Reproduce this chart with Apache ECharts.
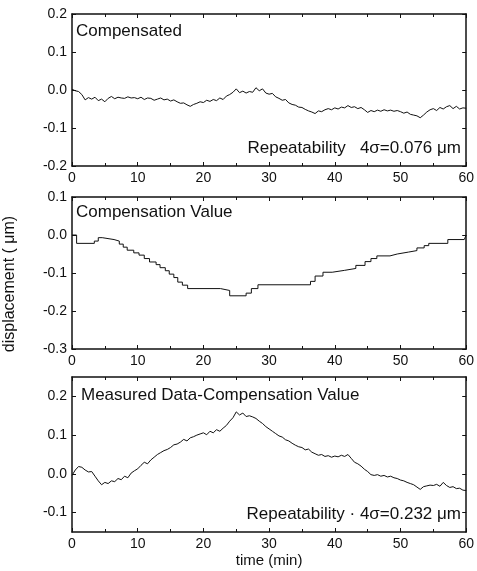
<!DOCTYPE html>
<html><head><meta charset="utf-8">
<script src="https://cdn.jsdelivr.net/npm/echarts@6/dist/echarts.min.js"></script>
<style>html,body{margin:0;padding:0;background:#fff}#c{width:477px;height:571px}</style>
</head><body><div id="c"></div>
<script>
// ---- data ----
const timeStep = 0.5; // sampling interval of the noisy records, minutes
const compensated = [
 0.002,-0.002,-0.004,-0.012,-0.026,-0.020,-0.024,-0.019,-0.028,-0.024,
 -0.031,-0.022,-0.017,-0.023,-0.019,-0.021,-0.022,-0.018,-0.021,-0.020,
 -0.023,-0.019,-0.025,-0.021,-0.022,-0.027,-0.024,-0.021,-0.026,-0.024,
 -0.029,-0.026,-0.031,-0.035,-0.034,-0.039,-0.043,-0.038,-0.035,-0.031,
 -0.033,-0.027,-0.030,-0.025,-0.028,-0.021,-0.025,-0.016,-0.012,-0.006,
 0.003,-0.007,-0.003,-0.008,-0.004,-0.006,0.006,-0.002,0.003,-0.008,
 -0.011,-0.009,-0.018,-0.022,-0.027,-0.025,-0.034,-0.038,-0.040,-0.045,
 -0.046,-0.051,-0.055,-0.058,-0.062,-0.055,-0.057,-0.052,-0.049,-0.052,
 -0.047,-0.050,-0.045,-0.047,-0.041,-0.046,-0.044,-0.049,-0.046,-0.052,
 -0.059,-0.054,-0.057,-0.053,-0.056,-0.052,-0.055,-0.053,-0.056,-0.054,
 -0.057,-0.061,-0.058,-0.064,-0.066,-0.068,-0.073,-0.066,-0.058,-0.052,
 -0.049,-0.054,-0.046,-0.050,-0.044,-0.041,-0.049,-0.043,-0.050,-0.047,
 -0.048
];
// compensation value: step breakpoints [time, level]
const compTimes = [0,0.7,3.4,4.0,4.6,6.4,7.2,7.8,8.4,9.4,10.2,11.0,11.8,12.8,13.4,14.2,14.8,15.5,16.1,16.8,17.6,22.6,24.0,26.5,27.3,28.3,36.3,37.0,38.2,39.6,41.5,43.2,44.6,45.5,46.4,48.4,49.5,51.2,52.5,53.6,54.3,57.2,59.7,60];
const compLevels = [0.0,-0.022,-0.016,-0.007,-0.012,-0.016,-0.024,-0.032,-0.040,-0.047,-0.053,-0.062,-0.071,-0.078,-0.086,-0.094,-0.103,-0.112,-0.124,-0.132,-0.141,-0.146,-0.160,-0.153,-0.141,-0.131,-0.122,-0.108,-0.098,-0.093,-0.088,-0.080,-0.070,-0.062,-0.055,-0.050,-0.045,-0.041,-0.034,-0.028,-0.022,-0.012,-0.009,0.0];
const measuredMinusComp = [
 -0.004,0.010,0.019,0.017,0.010,0.005,0.006,-0.006,-0.018,-0.028,
 -0.022,-0.025,-0.018,-0.020,-0.012,-0.015,-0.006,-0.010,0.002,0.008,
 0.013,0.022,0.030,0.026,0.036,0.043,0.050,0.055,0.060,0.063,
 0.068,0.075,0.077,0.082,0.089,0.085,0.093,0.096,0.100,0.103,
 0.106,0.101,0.110,0.106,0.114,0.110,0.118,0.125,0.136,0.145,
 0.160,0.152,0.157,0.148,0.150,0.147,0.143,0.136,0.130,0.122,
 0.116,0.110,0.104,0.098,0.095,0.088,0.085,0.079,0.074,0.070,
 0.068,0.062,0.064,0.056,0.052,0.048,0.050,0.045,0.047,0.043,
 0.046,0.044,0.048,0.045,0.050,0.040,0.030,0.026,0.020,0.012,
 0.006,-0.002,-0.004,-0.002,-0.006,-0.004,-0.008,-0.006,-0.010,-0.012,
 -0.016,-0.018,-0.022,-0.025,-0.028,-0.034,-0.040,-0.033,-0.031,-0.029,
 -0.030,-0.027,-0.032,-0.022,-0.030,-0.035,-0.033,-0.038,-0.037,-0.042,
 -0.043
];
const xTicks = [0,10,20,30,40,50,60];
const yRanges = [[-0.2,0.2],[-0.3,0.1],[-0.15,0.25]];
const yLabelValues = [[-0.2,-0.1,0,0.1,0.2],[-0.3,-0.2,-0.1,0,0.1],[-0.1,0,0.1,0.2]];

const pairs = (arr) => arr.map((v,i)=>[i*timeStep, v]);
const FONT = "'Liberation Sans', Arial, sans-serif";
const fmt = v => (Math.abs(v)<1e-9 ? '0.0' : v.toFixed(1));

const grids = [
  {left:72, top:14, width:396, height:152},
  {left:72, top:197, width:396, height:152},
  {left:72, top:377, width:396, height:155}
];
const axLine = {show:true, onZero:false, lineStyle:{color:'#111', width:1.5}};
const xAxes = [], yAxes = [];
grids.forEach((g,i)=>{
  const base = {type:'value', gridIndex:i, min:0, max:60, interval:10,
    axisLine:axLine, splitLine:{show:false},
    axisTick:{show:true, inside:true, length:4, lineStyle:{color:'#111'}},
    minorTick:{show:true, splitNumber:2, length:3, lineStyle:{color:'#111'}}};
  xAxes.push(Object.assign({}, base, {position:'bottom',
    axisLabel:{show:true, margin:5, color:'#111', fontSize:14, fontFamily:FONT},
    name: i===2 ? 'time (min)' : '', nameLocation:'middle', nameGap:21,
    nameTextStyle:{color:'#111', fontSize:15, fontFamily:FONT}}));
  xAxes.push(Object.assign({}, base, {position:'top', axisLabel:{show:false}}));
  const ybase = {type:'value', gridIndex:i, min:yRanges[i][0], max:yRanges[i][1],
    axisLine:axLine, splitLine:{show:false},
    axisTick:{show:true, inside:true, length:4, lineStyle:{color:'#111'}, customValues:yLabelValues[i]}};
  yAxes.push(Object.assign({}, ybase, {position:'left',
    axisLabel:{show:true, margin:5, color:'#111', fontSize:14, fontFamily:FONT, formatter:fmt, customValues:yLabelValues[i]}}));
  yAxes.push(Object.assign({}, ybase, {position:'right', axisLabel:{show:false}}));
});
const lineBase = {type:'line', showSymbol:false, symbol:'none', animation:false,
  lineStyle:{color:'#111', width:1}};
const option = {
  animation:false,
  backgroundColor:'#fff',
  grid: grids,
  xAxis: xAxes,
  yAxis: yAxes,
  series: [
    Object.assign({}, lineBase, {xAxisIndex:0, yAxisIndex:0, data:pairs(compensated)}),
    Object.assign({}, lineBase, {xAxisIndex:2, yAxisIndex:2, step:'end', data:compTimes.map((t,i)=>[t, compLevels[i]])}),
    Object.assign({}, lineBase, {xAxisIndex:4, yAxisIndex:4, data:pairs(measuredMinusComp)})
  ],
  graphic: [
    {type:'text', x:76, y:31, style:{text:'Compensated', fill:'#111', font:'17px '+FONT, verticalAlign:'middle'}},
    {type:'text', x:461, y:148, style:{text:'Repeatability   4σ=0.076 μm', fill:'#111', font:'17px '+FONT, align:'right', verticalAlign:'middle'}},
    {type:'text', x:76, y:212, style:{text:'Compensation Value', fill:'#111', font:'17px '+FONT, verticalAlign:'middle'}},
    {type:'text', x:81, y:395, style:{text:'Measured Data-Compensation Value', fill:'#111', font:'17px '+FONT, verticalAlign:'middle'}},
    {type:'text', x:461, y:514, style:{text:'Repeatability · 4σ=0.232 μm', fill:'#111', font:'17px '+FONT, align:'right', verticalAlign:'middle'}},
    {type:'text', x:10, y:284, rotation:Math.PI/2, style:{text:'displacement ( μm)', fill:'#111', font:'16px '+FONT, align:'center', verticalAlign:'middle'}}
  ]
};
const chart = echarts.init(document.getElementById('c'), null, {renderer:'canvas'});
chart.setOption(option);
</script>
</body></html>
